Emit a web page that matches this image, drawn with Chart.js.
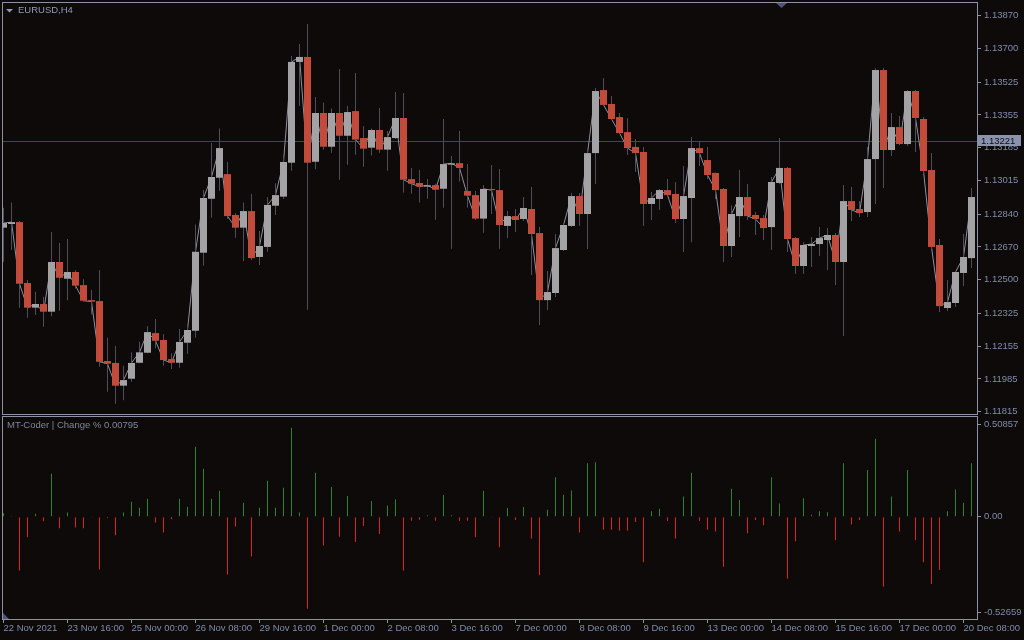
<!DOCTYPE html>
<html>
<head>
<meta charset="utf-8">
<script src="https://cdn.jsdelivr.net/npm/chart.js@4.4.1/dist/chart.umd.min.js"></script>
<style>
    html, body { margin: 0; padding: 0; background: #0d0a09; }
    #wrap { position: relative; width: 1024px; height: 640px; overflow: hidden; }
    canvas { position: absolute; left: 0; top: 0; }
</style>
</head>
<body>
<div id="wrap">
    <canvas id="mainChart" width="1024" height="640"></canvas>
    <canvas id="subChart" width="1024" height="640"></canvas>
</div>
<script>
// --- Data (EURUSD H4, one entry per bar) ---
const opens = [1.12770,1.12789,1.12799,1.12483,1.12355,1.12374,1.12334,1.12592,1.12505,1.12540,1.12472,1.12394,1.12389,1.12078,1.12068,1.11950,1.11986,1.12069,1.12121,1.12223,1.12187,1.12088,1.12069,1.12173,1.12235,1.12640,1.12920,1.13029,1.13048,1.12836,1.12770,1.12856,1.12618,1.12670,1.12884,1.12931,1.13107,1.13630,1.13656,1.13112,1.13365,1.13190,1.13365,1.13247,1.13375,1.13235,1.13185,1.13277,1.13175,1.13235,1.13339,1.13022,1.13002,1.12983,1.12991,1.12972,1.13097,1.13105,1.12960,1.12939,1.12817,1.12971,1.12965,1.12779,1.12830,1.12815,1.12867,1.12742,1.12394,1.12431,1.12654,1.12779,1.12934,1.12841,1.13157,1.13484,1.13412,1.13344,1.13266,1.13189,1.13163,1.12893,1.12919,1.12965,1.12945,1.12815,1.12924,1.13183,1.13121,1.13054,1.12971,1.12675,1.12830,1.12929,1.12836,1.12820,1.12773,1.13002,1.13080,1.12716,1.12571,1.12675,1.12685,1.12706,1.12732,1.12592,1.12908,1.12867,1.12851,1.13126,1.13588,1.13173,1.13292,1.13204,1.13479,1.13334,1.13069,1.12680,1.12353,1.12379,1.12535,1.12612];
const highs = [1.12874,1.12900,1.12805,1.12498,1.12438,1.12412,1.12747,1.12690,1.12711,1.12550,1.12502,1.12446,1.12550,1.12199,1.12156,1.12054,1.12123,1.12178,1.12260,1.12296,1.12218,1.12118,1.12244,1.12265,1.12787,1.12965,1.13209,1.13285,1.13111,1.12846,1.12901,1.12945,1.12753,1.12929,1.13000,1.13138,1.13661,1.13723,1.13827,1.13448,1.13420,1.13389,1.13593,1.13401,1.13573,1.13298,1.13284,1.13391,1.13272,1.13474,1.13469,1.13080,1.13069,1.13022,1.12998,1.13334,1.13142,1.13272,1.13100,1.12960,1.12991,1.13095,1.13074,1.12856,1.12867,1.12929,1.12981,1.12773,1.12545,1.12737,1.12794,1.12950,1.12950,1.13173,1.13495,1.13547,1.13453,1.13365,1.13339,1.13230,1.13189,1.12955,1.12971,1.13022,1.13007,1.13090,1.13240,1.13220,1.13189,1.13056,1.12976,1.12887,1.13069,1.12996,1.12851,1.12836,1.13033,1.13235,1.13085,1.12721,1.12695,1.12721,1.12773,1.12768,1.12742,1.12991,1.12981,1.12908,1.13189,1.13597,1.13599,1.13365,1.13349,1.13484,1.13484,1.13344,1.13157,1.12711,1.12498,1.12545,1.12737,1.12976];
const lows = [1.12593,1.12654,1.12355,1.12303,1.12317,1.12256,1.12311,1.12339,1.12394,1.12455,1.12386,1.12320,1.12048,1.11919,1.11856,1.11875,1.11971,1.12066,1.12118,1.12144,1.12054,1.12036,1.12043,1.12114,1.12199,1.12573,1.12822,1.12962,1.12815,1.12718,1.12597,1.12602,1.12576,1.12645,1.12836,1.12919,1.13066,1.13401,1.12344,1.13073,1.13175,1.13159,1.13019,1.13097,1.13149,1.13086,1.13144,1.13159,1.13066,1.13230,1.12952,1.12946,1.12900,1.12920,1.12811,1.12874,1.12661,1.13009,1.12874,1.12810,1.12744,1.12841,1.12661,1.12716,1.12747,1.12805,1.12524,1.12265,1.12343,1.12410,1.12649,1.12773,1.12779,1.12659,1.12997,1.13401,1.13329,1.13258,1.13147,1.13059,1.12779,1.12810,1.12862,1.12934,1.12794,1.12644,1.12695,1.13090,1.13022,1.12919,1.12592,1.12618,1.12721,1.12810,1.12732,1.12706,1.12654,1.12997,1.12644,1.12529,1.12529,1.12566,1.12623,1.12550,1.12472,1.12208,1.12805,1.12825,1.12825,1.12893,1.12976,1.13142,1.13199,1.13194,1.13163,1.13048,1.12659,1.12332,1.12337,1.12358,1.12467,1.12561];
const closes = [1.12794,1.12799,1.12479,1.12355,1.12374,1.12334,1.12592,1.12510,1.12540,1.12469,1.12391,1.12386,1.12074,1.12064,1.11950,1.11979,1.12068,1.12123,1.12228,1.12183,1.12083,1.12069,1.12177,1.12239,1.12645,1.12924,1.13033,1.13183,1.12830,1.12770,1.12856,1.12612,1.12675,1.12888,1.12939,1.13111,1.13630,1.13656,1.13107,1.13365,1.13190,1.13365,1.13247,1.13370,1.13227,1.13180,1.13277,1.13175,1.13240,1.13339,1.13019,1.12998,1.12983,1.12990,1.12967,1.13100,1.13104,1.13080,1.12936,1.12817,1.12971,1.12965,1.12784,1.12830,1.12810,1.12872,1.12737,1.12394,1.12436,1.12664,1.12784,1.12934,1.12841,1.13157,1.13479,1.13407,1.13334,1.13261,1.13183,1.13157,1.12893,1.12924,1.12965,1.12939,1.12815,1.12934,1.13183,1.13157,1.13043,1.12965,1.12675,1.12841,1.12929,1.12830,1.12815,1.12768,1.13007,1.13080,1.12711,1.12571,1.12680,1.12685,1.12716,1.12732,1.12592,1.12908,1.12862,1.12846,1.13126,1.13588,1.13173,1.13292,1.13204,1.13479,1.13339,1.13064,1.12670,1.12363,1.12384,1.12540,1.12618,1.12929];

// Change % indicator, one value per bar
const changePct = [0.019,0.003,-0.296,-0.114,0.016,-0.026,0.236,-0.064,0.023,-0.060,-0.064,-0.005,-0.291,-0.007,-0.103,0.023,0.082,0.049,0.098,-0.032,-0.087,-0.015,0.098,0.055,0.385,0.264,0.098,0.142,-0.318,-0.054,0.076,-0.219,0.049,0.197,0.049,0.159,0.489,0.023,-0.507,0.241,-0.159,0.163,-0.110,0.114,-0.139,-0.051,0.086,-0.095,0.061,0.096,-0.297,-0.022,-0.017,0.007,-0.022,0.119,0.007,-0.024,-0.022,-0.114,0.143,-0.005,-0.168,0.048,-0.019,0.053,-0.120,-0.323,0.038,0.216,0.120,0.144,-0.087,0.294,0.299,-0.072,-0.072,-0.077,-0.077,-0.029,-0.251,0.029,0.043,-0.024,-0.120,0.111,0.241,-0.024,-0.072,-0.082,-0.275,0.154,0.091,-0.091,-0.019,-0.048,0.216,0.072,-0.342,-0.135,0.101,0.010,0.029,0.024,-0.130,0.294,-0.043,-0.019,0.256,0.429,-0.386,0.111,-0.082,0.256,-0.130,-0.251,-0.371,-0.294,0.029,0.149,0.077,0.294];

// Axis labels
const priceTicks = [1.13870,1.13700,1.13525,1.13355,1.13185,1.13015,1.12840,1.12670,1.12500,1.12325,1.12155,1.11985,1.11815];
const subTicks = [0.50857, 0, -0.52659];
const subTickLabels = ['0.50857', '0.00', '-0.52659'];
const timeTickBars = [0,8,16,24,32,40,48,56,64,72,80,88,96,104,112,120];
const timeTickLabels = ['22 Nov 2021','23 Nov 16:00','25 Nov 00:00','26 Nov 08:00','29 Nov 16:00','1 Dec 00:00','2 Dec 08:00','3 Dec 16:00','7 Dec 00:00','8 Dec 08:00','9 Dec 16:00','13 Dec 00:00','14 Dec 08:00','15 Dec 16:00','17 Dec 00:00','20 Dec 08:00'];
const currentPrice = 1.13221;
const symbolTitle = 'EURUSD,H4';
const indicatorTitle = 'MT-Coder | Change % 0.00795';

// --- Styling ---
const FONT = '"Liberation Sans", Arial, sans-serif';
const TEXT = '#7f8cab';
const FRAME = '#8c91a6';
const BULL = '#a3a3a5';
const BEAR = '#c24b3c';
const WICK = '#4d4e5a';
const UP_HIST = '#23891f';
const DOWN_HIST = '#e41e1e';

Chart.defaults.font.family = FONT;
Chart.defaults.font.size = 9.5;
Chart.defaults.color = TEXT;

const bars = closes.map((c, i) => i);
const xMin = -0.0625, xMax = 121.6875;

function fixedAxis(size, horizontal) {
    return scale => {
        if (horizontal) scale.height = size; else scale.width = size;
        scale.paddingTop = 0; scale.paddingBottom = 0;
        scale.paddingLeft = 0; scale.paddingRight = 0;
    };
}

// --- Main price window ---
const mainOverlay = {
    id: 'mainOverlay',
    beforeDatasetsDraw(chart) {
        const { ctx, chartArea: a, scales: { y } } = chart;
        const py = Math.round(y.getPixelForValue(currentPrice)) + 0.5;
        ctx.save();
        ctx.strokeStyle = '#3c4177';
        ctx.lineWidth = 1;
        ctx.beginPath();
        ctx.moveTo(a.left, py);
        ctx.lineTo(a.right, py);
        ctx.stroke();
        ctx.restore();
    },
    afterDraw(chart) {
        const { ctx, chartArea: a, scales: { y } } = chart;
        ctx.save();
        ctx.strokeStyle = FRAME;
        ctx.lineWidth = 1;
        ctx.strokeRect(a.left - 0.5, a.top - 0.5, a.right - a.left + 1, a.bottom - a.top + 1);

        // symbol caption
        ctx.fillStyle = '#8e9abb';
        ctx.beginPath();
        ctx.moveTo(6, 9); ctx.lineTo(13, 9); ctx.lineTo(9.5, 12.5);
        ctx.closePath(); ctx.fill();
        ctx.font = '9.5px ' + FONT;
        ctx.textBaseline = 'middle';
        ctx.fillStyle = '#8f9bbb';
        ctx.fillText(symbolTitle, 18, 10.5);

        // chart shift marker
        ctx.fillStyle = '#4d5479';
        ctx.beginPath();
        ctx.moveTo(776, 3); ctx.lineTo(787, 3); ctx.lineTo(781.5, 8);
        ctx.closePath(); ctx.fill();

        // current price tag
        const py = Math.round(y.getPixelForValue(currentPrice));
        ctx.fillStyle = '#8b92ad';
        ctx.fillRect(978, py - 6, 43, 11);
        ctx.fillStyle = '#0c0c16';
        ctx.fillText(currentPrice.toFixed(5), 981, py);
        ctx.restore();
    }
};

new Chart(document.getElementById('mainChart'), {
    type: 'bar',
    data: {
        datasets: [
            {
                label: 'Body',
                data: bars.map(i => ({ x: i, y: [opens[i], closes[i]] })),
                backgroundColor: bars.map(i => closes[i] >= opens[i] ? BULL : BEAR),
                barThickness: 7,
                minBarLength: 1,
                grouped: false,
                borderWidth: 0,
                inflateAmount: 0,
                order: 0
            },
            {
                label: 'Wick',
                data: bars.map(i => ({ x: i, y: [lows[i], highs[i]] })),
                backgroundColor: WICK,
                barThickness: 1,
                grouped: false,
                borderWidth: 0,
                inflateAmount: 0,
                order: 1
            },
            {
                type: 'line',
                label: 'Close',
                data: bars.map(i => ({ x: i, y: closes[i] })),
                borderColor: '#8f8f9e',
                borderWidth: 1,
                pointRadius: 0,
                tension: 0,
                order: 2
            }
        ]
    },
    options: {
        responsive: false,
        animation: false,
        events: [],
        layout: { padding: { left: 3, top: 3, right: 0, bottom: 226 } },
        plugins: { legend: { display: false }, tooltip: { enabled: false } },
        scales: {
            x: {
                type: 'linear',
                display: false,
                offset: false,
                min: xMin,
                max: xMax,
                grid: { offset: false }
            },
            y: {
                type: 'linear',
                position: 'right',
                min: 1.118031,
                max: 1.139359,
                afterBuildTicks: s => { s.ticks = priceTicks.map(v => ({ value: v })); },
                afterFit: fixedAxis(47, false),
                ticks: { callback: v => v.toFixed(5), padding: 3, color: TEXT },
                grid: { drawOnChartArea: false, drawTicks: true, tickLength: 4, color: FRAME },
                border: { display: false }
            }
        }
    },
    plugins: [mainOverlay]
});

// --- Indicator sub-window ---
const subOverlay = {
    id: 'subOverlay',
    afterDraw(chart) {
        const { ctx, chartArea: a } = chart;
        ctx.save();
        ctx.strokeStyle = FRAME;
        ctx.lineWidth = 1;
        ctx.strokeRect(a.left - 0.5, a.top - 0.5, a.right - a.left + 1, a.bottom - a.top + 1);
        ctx.font = '9.5px ' + FONT;
        ctx.textBaseline = 'middle';
        ctx.fillStyle = '#7f8799';
        ctx.fillText(indicatorTitle, 7, 425.5);
        ctx.fillStyle = '#4d5479';
        ctx.beginPath();
        ctx.moveTo(3, 613); ctx.lineTo(3, 619); ctx.lineTo(9, 619);
        ctx.closePath(); ctx.fill();
        ctx.restore();
    }
};

new Chart(document.getElementById('subChart'), {
    type: 'bar',
    data: {
        datasets: [{
            label: 'Change %',
            data: bars.map(i => ({ x: i, y: changePct[i] })),
            backgroundColor: changePct.map(v => v >= 0 ? UP_HIST : DOWN_HIST),
            barThickness: 1,
            grouped: false,
            borderWidth: 0,
            inflateAmount: 0
        }]
    },
    options: {
        responsive: false,
        animation: false,
        events: [],
        layout: { padding: { left: 3, top: 417, right: 0, bottom: 0 } },
        plugins: { legend: { display: false }, tooltip: { enabled: false } },
        scales: {
            x: {
                type: 'linear',
                position: 'bottom',
                offset: false,
                min: xMin,
                max: xMax,
                afterBuildTicks: s => { s.ticks = timeTickBars.map(v => ({ value: v })); },
                afterFit: fixedAxis(21, true),
                ticks: {
                    callback: v => timeTickLabels[timeTickBars.indexOf(v)],
                    align: 'start',
                    autoSkip: false,
                    maxRotation: 0,
                    padding: 0,
                    color: TEXT
                },
                grid: { drawOnChartArea: false, drawTicks: true, tickLength: 4, color: FRAME, offset: false },
                border: { display: false }
            },
            y: {
                type: 'linear',
                position: 'right',
                min: -0.563,
                max: 0.548,
                afterBuildTicks: s => { s.ticks = subTicks.map(v => ({ value: v })); },
                afterFit: fixedAxis(47, false),
                ticks: { callback: v => subTickLabels[subTicks.indexOf(v)], padding: 3, color: TEXT },
                grid: { drawOnChartArea: false, drawTicks: true, tickLength: 4, color: FRAME },
                border: { display: false }
            }
        }
    },
    plugins: [subOverlay]
});
</script>
</body>
</html>
